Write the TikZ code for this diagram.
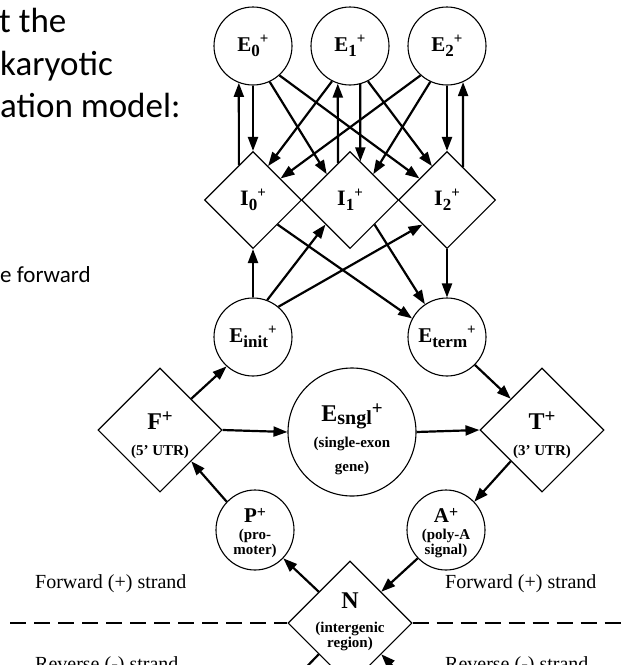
\documentclass[tikz,border=0pt]{standalone}
\usepackage{fontspec}
\setmainfont{Liberation Serif}
\newfontfamily\slidefont{Carlito}
\usetikzlibrary{shapes.geometric,arrows.meta}
\newcommand{\fsz}[1]{\fontsize{#1}{#1}\selectfont}
% base letter with subscript and superscript plus
\newcommand{\slab}[2]{#1\raisebox{-5pt}{\fsz{17}#2}\raisebox{7.5pt}{\fsz{15}+}}
\newcommand{\plab}[1]{#1\raisebox{6.5pt}{\fsz{19}+}}
\begin{document}
\begin{tikzpicture}[x=1pt,y=-1pt,
  circ/.style={circle, draw, line width=1.1pt, minimum size=78pt, inner sep=0pt, font=\bfseries\fsz{21}},
  ell/.style={ellipse, draw, line width=1.1pt, minimum width=78pt, minimum height=80pt, inner sep=0pt},
  dia/.style={diamond, draw, line width=1.1pt, inner sep=0pt, aspect=1, font=\bfseries\fsz{22}},
  bigdia/.style={dia, minimum width=124pt, minimum height=124pt},
  smalldia/.style={dia, minimum width=97pt, minimum height=97pt},
  arr/.style={line width=2.2pt, -{Triangle[length=14pt,width=10pt]}},
  stub/.style={line width=2.2pt},
  lbl/.style={font=\bfseries, inner sep=0pt, anchor=base},
  strand/.style={font=\fsz{20}, inner sep=0pt, anchor=base west},
  slide/.style={font=\slidefont, inner sep=0pt, anchor=base west},
  dashline/.style={line width=1.6pt, dash pattern=on 16pt off 8pt}
]
\useasboundingbox (0,0) rectangle (626,665);
\fill[white] (0,0) rectangle (626,665);
\clip (0,0) rectangle (626,665);

% slide text (cut off at the left)
\node[slide, font=\slidefont\fsz{35}] (s1) at (-1,32) {t the};
\node[slide, font=\slidefont\fsz{35}] (s2) at (0,75) {karyotic};
\node[slide, font=\slidefont\fsz{35}] (s3) at (0,117) {ation model:};
\node[slide, font=\slidefont\fsz{23}] (s4) at (0,282) {e forward};

% exon states
\node[circ] (E0) at (253,46) {\slab{E}{0}};
\node[circ] (E1) at (350,46) {\slab{E}{1}};
\node[circ] (E2) at (447,46) {\slab{E}{2}};

% intron states
\node[smalldia] (I0) at (253,200) {\slab{I}{0}};
\node[smalldia] (I1) at (350,200) {\slab{I}{1}};
\node[smalldia] (I2) at (447,200) {\slab{I}{2}};

% initial / terminal exons
\node[circ] (Einit) at (253,337) {E\raisebox{-5pt}{\fsz{17}init}\raisebox{7.5pt}{\fsz{15}+}};
\node[circ] (Eterm) at (447,337) {E\raisebox{-5pt}{\fsz{17}term}\raisebox{7.5pt}{\fsz{15}+}};

% F, Esngl, T
\node[bigdia] (F) at (160,430) {};
\node[lbl, font=\bfseries\fsz{24}] (Ft1) at (160,429) {\plab{F}};
\node[lbl, font=\bfseries\fsz{15}] (Ft2) at (160,455) {(5' UTR)};

\node[circle, draw, line width=1.1pt, minimum size=128pt, inner sep=0pt] (Es) at (352,432) {};
\node[lbl, font=\bfseries\fsz{24}] (Es1) at (352,421) {E\raisebox{-3pt}{\fsz{20}sngl}\raisebox{7pt}{\fsz{19}+}};
\node[lbl, font=\bfseries\fsz{15}] (Es2) at (352,447) {(single-exon};
\node[lbl, font=\bfseries\fsz{15}] (Es3) at (352,471) {gene)};

\node[bigdia] (T) at (542,430) {};
\node[lbl, font=\bfseries\fsz{24}] (Tt1) at (542,429) {\plab{T}};
\node[lbl, font=\bfseries\fsz{15}] (Tt2) at (542,455) {(3' UTR)};

% P, A
\node[ell] (P) at (255,530) {};
\node[lbl, font=\bfseries\fsz{21}] (Pt1) at (255,522) {P\raisebox{5pt}{\fsz{16}+}};
\node[lbl, font=\bfseries\fsz{15}] (Pt2) at (255,539) {(pro-};
\node[lbl, font=\bfseries\fsz{15}] (Pt3) at (255,554) {moter)};

\node[ell] (A) at (446,530) {};
\node[lbl, font=\bfseries\fsz{21}] (At1) at (446,522) {A\raisebox{5pt}{\fsz{16}+}};
\node[lbl, font=\bfseries\fsz{15}] (At2) at (446,539) {(poly-A};
\node[lbl, font=\bfseries\fsz{15}] (At3) at (446,554) {signal)};

% N
\node[bigdia] (N) at (350,623) {};
\node[lbl, font=\bfseries\fsz{24}] (Nt1) at (350,608) {N};
\node[lbl, font=\bfseries\fsz{15}] (Nt2) at (350,632) {(intergenic};
\node[lbl, font=\bfseries\fsz{15}] (Nt3) at (350,647) {region)};

% strand labels and dashed separator
\node[strand] (fl) at (35,588) {Forward (+) strand};
\node[strand] (fr) at (445,588) {Forward (+) strand};
\node[strand] (rl) at (35,670) {Reverse (-) strand};
\node[strand] (rr) at (445,670) {Reverse (-) strand};
\coordinate (dl) at (10,623);
\coordinate (dr) at (630,623);
\draw[dashline] (dl) -- (N.west);
\draw[dashline] (N.east) -- (dr);

% E -> I and I -> E
\draw[arr] (I0.112) -- (E0.-111);
\draw[arr] (E0.south) -- (I0.north);
\draw[arr] (E0.-65) -- (I1.132);
\draw[arr] (E0.-48) -- (I2.142);
\draw[arr] (E1.-117) -- (I0.66);
\draw[arr] (I1.108) -- (E1.-108);
\draw[arr] (E1.-75) -- (I1.75);
\draw[arr] (E1.-63) -- (I2.114);
\draw[arr] (E2.-132) -- (I0.38);
\draw[arr] (E2.-115) -- (I1.48);
\draw[arr] (E2.south) -- (I2.north);
\draw[arr] (I2.64) -- (E2.-66);

% Einit / Eterm
\draw[arr] (Einit.north) -- (I0.south);
\draw[arr] (Einit.69) -- (I1.-135);
\draw[arr] (Einit.50) -- (I2.-135);
\draw[arr] (I0.-45) -- (Eterm.152);
\draw[arr] (I1.-45) -- (Eterm.124);
\draw[arr] (I2.south) -- (Eterm.north);

% lower ring
\draw[arr] (F.45) -- (Einit.228);
\draw[arr] (F.east) -- (Es.west);
\draw[arr] (Es.east) -- (T.west);
\draw[arr] (Eterm.-45) -- (T.135);
\draw[arr] (T.-135) -- (A.45);
\draw[arr] (A.-135) -- (N.45);
\draw[arr] (N.135) -- (P.-45);
\draw[arr] (P.135) -- (F.-45);

% connections to the reverse strand (cut off)
\coordinate (revL) at (290,684);
\coordinate (revR) at (410,684);
\draw[stub] (N.-135) -- (revL);
\draw[arr] (revR) -- (N.-45);
\end{tikzpicture}
\end{document}
